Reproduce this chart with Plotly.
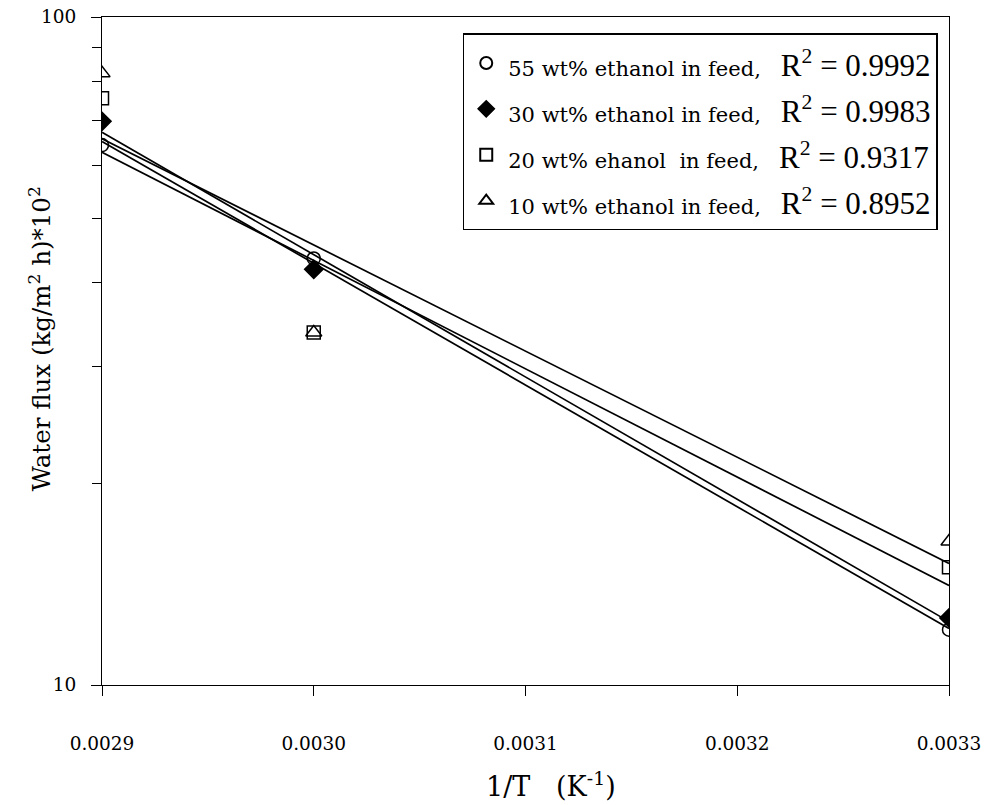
import numpy as np
import plotly.graph_objects as go

# ---- data ----
inv_T = [0.0029, 0.0030, 0.0033]
flux_55 = [64.3, 43.5, 12.1]
flux_30 = [69.8, 41.9, 12.6]
flux_20 = [75.6, 33.7, 15.0]
flux_10 = [82.4, 33.7, 16.4]

labels = ["55 wt% ethanol in feed,", "30 wt% ethanol in feed,",
          "20 wt% ehanol&nbsp; in feed,", "10 wt% ethanol in feed,"]
r2_text = ["0.9992", "0.9983", "0.9317", "0.8952"]
x_ticks = [0.0029, 0.0030, 0.0031, 0.0032, 0.0033]
x_ticktext = ["0.0029", "0.0030", "0.0031", "0.0032", "0.0033"]
y_major = [10, 100]
y_minor = [20, 30, 40, 50, 60, 70, 80, 90]

series = [flux_55, flux_30, flux_20, flux_10]
symbols = ["circle-open", "diamond", "square-open", "triangle-up-open"]
sizes = [13, 14, 13, 14]

fig = go.Figure()

# exponential trend lines (least squares in log space)
x_arr = np.array(inv_T)
x_line = np.array([min(inv_T), max(inv_T)])
for ys in series:
    b, a = np.polyfit(x_arr, np.log(np.array(ys)), 1)
    fig.add_trace(go.Scatter(x=x_line, y=np.exp(a + b * x_line), mode="lines",
                             line=dict(color="black", width=1.7),
                             showlegend=False, hoverinfo="skip"))

lab_style = "font-family:'DejaVu Serif';font-size:21px"
r2_style = "font-family:'Liberation Sans Narrow';font-size:31px"
for ys, lab, r2, sym, sz in zip(series, labels, r2_text, symbols, sizes):
    fig.add_trace(go.Scatter(
        x=inv_T, y=ys, mode="markers",
        marker=dict(symbol=sym, size=sz, color="black",
                    line=dict(color="black", width=1.5)),
        name=(f"<span style=\"{lab_style}\">{lab}&nbsp;&nbsp;&nbsp;</span>"
              f"<span style=\"{r2_style}\">R<sup>2</sup> = {r2}</span>"),
    ))

fig.update_layout(
    width=989, height=805,
    margin=dict(l=102, r=40, t=17, b=120),
    plot_bgcolor="white", paper_bgcolor="white",
    font=dict(family="DejaVu Serif", color="black", size=14),
    legend=dict(x=0.9867, y=0.9753, xanchor="right", yanchor="top",
                bgcolor="white", bordercolor="black", borderwidth=1.5,
                font=dict(family="DejaVu Serif", size=33, color="black"),
                tracegroupgap=0, itemsizing="constant", itemwidth=34),
    xaxis=dict(range=[0.0029, 0.0033], tickvals=x_ticks, ticktext=x_ticktext,
               showline=True, linecolor="black", linewidth=1.2, mirror=True,
               ticks="outside", ticklen=10, tickcolor="black",
               ticklabelstandoff=32, showgrid=False, zeroline=False,
               automargin=False, tickfont=dict(size=18.5)),
    yaxis=dict(type="log", range=[1, 2], tickvals=y_major,
               ticktext=[str(v) for v in y_major],
               minor=dict(tickvals=y_minor, ticks="outside", ticklen=9,
                          tickcolor="black", showgrid=False),
               showline=True, linecolor="black", linewidth=1.2, mirror=True,
               ticks="outside", ticklen=10, tickcolor="black",
               ticklabelstandoff=11, showgrid=False, zeroline=False,
               automargin=False, tickfont=dict(size=18.5)),
    annotations=[
        dict(text="1/T&nbsp;&nbsp;&nbsp;(K<sup>-1</sup>)", xref="paper", yref="paper",
             x=0.530, y=-0.178, xanchor="center", yanchor="bottom",
             showarrow=False, font=dict(size=27)),
        dict(text="Water flux (kg/m<sup>2</sup> h)*10<sup>2</sup>",
             xref="paper", yref="paper", x=-0.0732, y=0.519,
             xanchor="center", yanchor="middle", textangle=-90,
             showarrow=False, font=dict(size=24.5)),
    ],
)

fig.write_html(
    "out.html",
    config={"displayModeBar": False},
    post_script="document.body.style.margin='0px';"
                "document.body.style.overflow='hidden';",
)
